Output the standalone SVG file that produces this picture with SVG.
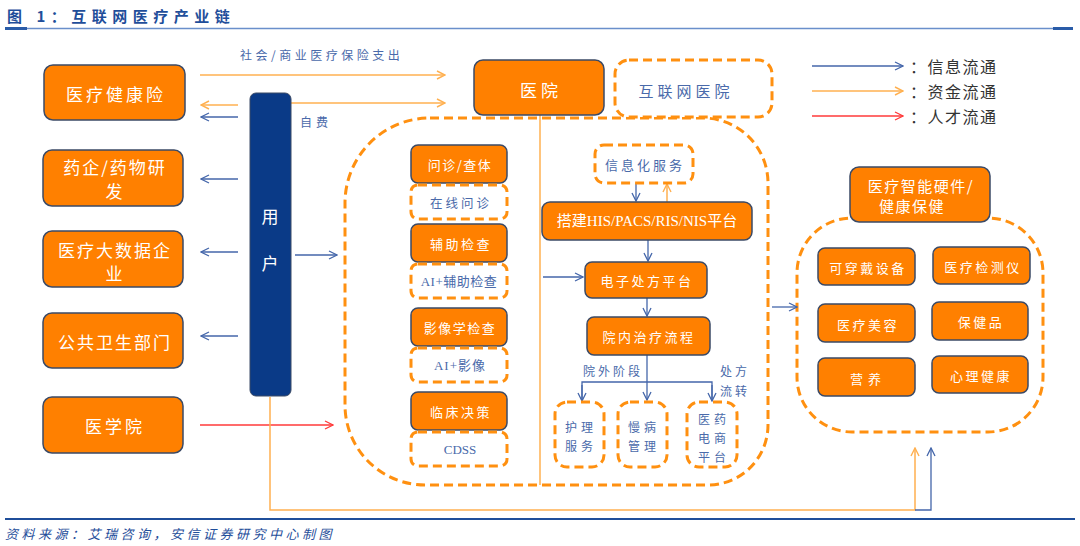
<svg xmlns="http://www.w3.org/2000/svg" width="1080" height="546" viewBox="0 0 1080 546">
<style>
text{font-family:"Noto Sans CJK SC","Liberation Serif",serif;}
.lat{font-family:"Liberation Serif","Noto Sans CJK SC",serif;}
.ob{fill:#FF8000;stroke:#3B4A66;stroke-width:1.5;}
.db{fill:#FFFFFF;stroke:#FF9010;stroke-width:3;stroke-dasharray:9 5;}
.wt{fill:#FFFFFF;text-anchor:middle;dominant-baseline:central;}
.bt{fill:#4A6AAA;text-anchor:middle;dominant-baseline:central;}
.lb{fill:#4A6AAA;dominant-baseline:central;}
.bl{stroke:#4466AA;stroke-width:1.3;fill:none;}
.or{stroke:#FFB050;stroke-width:1.5;fill:none;}
.rd{stroke:#FF3A3A;stroke-width:1.3;fill:none;}
.lg{fill:#333333;font-size:16px;letter-spacing:1.5px;dominant-baseline:central;}
</style>
<defs>
<marker id="mb" viewBox="0 0 10 10" refX="9" refY="5" markerWidth="10" markerHeight="10" markerUnits="userSpaceOnUse" orient="auto"><path d="M1,1 L9,5 L1,9" fill="none" stroke="#4466AA" stroke-width="1.3"/></marker>
<marker id="mo" viewBox="0 0 10 10" refX="9" refY="5" markerWidth="10" markerHeight="10" markerUnits="userSpaceOnUse" orient="auto"><path d="M1,1 L9,5 L1,9" fill="none" stroke="#FFB050" stroke-width="1.4"/></marker>
<marker id="mr" viewBox="0 0 10 10" refX="9" refY="5" markerWidth="10" markerHeight="10" markerUnits="userSpaceOnUse" orient="auto"><path d="M1,1 L9,5 L1,9" fill="none" stroke="#FF3A3A" stroke-width="1.3"/></marker>
</defs>
<rect width="1080" height="546" fill="#FFFFFF"/>

<g id="header">
<text x="7" y="15" font-size="15" font-weight="bold" fill="#1F4E9A" letter-spacing="5.5" dominant-baseline="central">图 1：互联网医疗产业链</text>
<line x1="5" y1="28.5" x2="1073" y2="28.5" stroke="#6A8FCB" stroke-width="1.5"/>
<line x1="5" y1="28.5" x2="27" y2="28.5" stroke="#2A5CA8" stroke-width="3"/>
<line x1="1053" y1="28.5" x2="1073" y2="28.5" stroke="#2A5CA8" stroke-width="3"/>
</g>

<g id="regions">
<path class="db" fill="none" d="M430,118 H703 A65,65 0 0 1 768,183 V425 A60,60 0 0 1 708,485 H425 A80,80 0 0 1 345,405 V203 A85,85 0 0 1 430,118 Z"/>
<rect class="db" x="797" y="218" width="246" height="214" rx="55"/>
</g>

<g id="connectors">
<line class="or" x1="200" y1="75" x2="445" y2="75" marker-end="url(#mo)"/>
<line class="or" x1="291" y1="103" x2="445" y2="103" marker-end="url(#mo)"/>
<line class="or" x1="238" y1="105" x2="201" y2="105" marker-end="url(#mo)"/>
<line class="bl" x1="238" y1="117" x2="201" y2="117" marker-end="url(#mb)"/>
<line class="bl" x1="238" y1="179" x2="201" y2="179" marker-end="url(#mb)"/>
<line class="bl" x1="238" y1="252" x2="201" y2="252" marker-end="url(#mb)"/>
<line class="bl" x1="238" y1="336" x2="201" y2="336" marker-end="url(#mb)"/>
<line class="bl" x1="295" y1="255" x2="337" y2="255" marker-end="url(#mb)"/>
<line class="rd" x1="200" y1="425" x2="333" y2="425" marker-end="url(#mr)"/>
<polyline class="or" stroke-width="1.3" points="270,397 270,510 915,510 915,448" marker-end="url(#mo)"/>
<polyline class="bl" points="915,510 931,510 931,448" marker-end="url(#mb)"/>
<line class="or" stroke-width="1.3" x1="540" y1="115" x2="540" y2="485"/>
<line class="bl" x1="636" y1="183" x2="636" y2="201" marker-end="url(#mb)"/>
<line class="or" stroke-width="1.3" x1="667" y1="202" x2="667" y2="184" marker-end="url(#mo)"/>
<line class="bl" x1="648" y1="240" x2="648" y2="261" marker-end="url(#mb)"/>
<line class="bl" x1="647" y1="298" x2="647" y2="316" marker-end="url(#mb)"/>
<line class="bl" x1="543" y1="277" x2="583" y2="277" marker-end="url(#mb)"/>
<line class="bl" x1="647" y1="355" x2="647" y2="400" marker-end="url(#mb)"/>
<polyline class="bl" points="582,400 582,382 712,382 712,400"/>
<line class="bl" x1="582" y1="385" x2="582" y2="401" marker-end="url(#mb)"/>
<line class="bl" x1="712" y1="385" x2="712" y2="401" marker-end="url(#mb)"/>
<line class="bl" x1="772" y1="307" x2="797" y2="307" marker-end="url(#mb)"/>
<text class="lb" x="240" y="54" font-size="12" letter-spacing="3.5">社会/商业医疗保险支出</text>
<text class="lb" x="300" y="121" font-size="12" letter-spacing="4">自费</text>
<text class="lb" x="583" y="370" font-size="12" letter-spacing="3">院外阶段</text>
<text class="lb" x="720" y="370" font-size="12" letter-spacing="3">处方</text>
<text class="lb" x="720" y="390" font-size="12" letter-spacing="3">流转</text>
</g>

<g id="legend">
<line class="bl" x1="812" y1="66" x2="903" y2="66" marker-end="url(#mb)"/>
<line class="or" x1="812" y1="91" x2="903" y2="91" marker-end="url(#mo)"/>
<line class="rd" x1="812" y1="116" x2="903" y2="116" marker-end="url(#mr)"/>
<text class="lg" x="910" y="66">：信息流通</text>
<text class="lg" x="910" y="91">：资金流通</text>
<text class="lg" x="910" y="116">：人才流通</text>
</g>

<g id="n-insurance"><rect class="ob" x="44" y="65" width="141" height="55" rx="9"/><text class="wt" x="116" y="93" font-size="17" letter-spacing="3">医疗健康险</text></g>
<g id="n-pharma"><rect class="ob" x="43" y="150" width="140" height="56" rx="9"/><text class="wt" x="115" y="166" font-size="17" letter-spacing="2">药企/药物研</text><text class="wt" x="114" y="190" font-size="17">发</text></g>
<g id="n-bigdata"><rect class="ob" x="43" y="231" width="140" height="56" rx="9"/><text class="wt" x="115" y="249" font-size="17" letter-spacing="2">医疗大数据企</text><text class="wt" x="114" y="272" font-size="17">业</text></g>
<g id="n-public"><rect class="ob" x="43" y="313" width="140" height="55" rx="9"/><text class="wt" x="115" y="341" font-size="17" letter-spacing="2">公共卫生部门</text></g>
<g id="n-school"><rect class="ob" x="43" y="397" width="140" height="56" rx="9"/><text class="wt" x="115" y="425" font-size="17" letter-spacing="3">医学院</text></g>

<g id="n-user"><rect x="250" y="93" width="41" height="303" rx="6" fill="#0A3A87" stroke="#3B4A66" stroke-width="1"/><text class="wt" x="270" y="215" font-size="17">用</text><text class="wt" x="270" y="262" font-size="17">户</text></g>

<g id="n-hospital"><rect class="ob" x="474" y="60" width="130" height="55" rx="9"/><text class="wt" x="541" y="89" font-size="17" letter-spacing="4">医院</text></g>
<g id="n-internet-hospital"><rect class="db" x="615" y="60" width="157" height="57" rx="14"/><text class="bt" x="686" y="90" font-size="15" letter-spacing="4">互联网医院</text></g>

<g id="n-wenzhen"><rect class="ob" x="411" y="145" width="96" height="38" rx="7"/><text class="wt" x="460" y="164" font-size="13" letter-spacing="1.5">问诊/查体</text></g>
<g id="n-online"><rect class="db" x="411" y="185" width="96" height="34" rx="7"/><text class="bt" x="461" y="202" font-size="12.5" letter-spacing="3">在线问诊</text></g>
<g id="n-fuzhu"><rect class="ob" x="411" y="224" width="96" height="38" rx="7"/><text class="wt" x="461" y="243" font-size="13" letter-spacing="2.5">辅助检查</text></g>
<g id="n-ai-fuzhu"><rect class="db" x="411" y="264" width="96" height="34" rx="7"/><text class="bt lat" x="459" y="281" font-size="13" letter-spacing="0.5">AI+辅助检查</text></g>
<g id="n-yingxiang"><rect class="ob" x="411" y="308" width="96" height="38" rx="7"/><text class="wt" x="460" y="327" font-size="13" letter-spacing="1.5">影像学检查</text></g>
<g id="n-ai-yingxiang"><rect class="db" x="411" y="348" width="96" height="34" rx="7"/><text class="bt lat" x="460" y="365" font-size="13" letter-spacing="1">AI+影像</text></g>
<g id="n-linchuang"><rect class="ob" x="411" y="392" width="96" height="38" rx="7"/><text class="wt" x="461" y="411" font-size="13" letter-spacing="2.5">临床决策</text></g>
<g id="n-cdss"><rect class="db" x="411" y="432" width="96" height="34" rx="7"/><text class="bt lat" x="460" y="449" font-size="13">CDSS</text></g>

<g id="n-xinxi"><rect class="db" x="595" y="145" width="98" height="38" rx="9"/><text class="bt" x="645" y="164" font-size="13" letter-spacing="3">信息化服务</text></g>
<g id="n-his"><rect class="ob" x="542" y="202" width="210" height="38" rx="8"/><text class="wt lat" x="647" y="221" font-size="15">搭建HIS/PACS/RIS/NIS平台</text></g>
<g id="n-chufang"><rect class="ob" x="585" y="262" width="122" height="36" rx="7"/><text class="wt" x="647" y="280" font-size="13" letter-spacing="2.5">电子处方平台</text></g>
<g id="n-yuannei"><rect class="ob" x="587" y="317" width="123" height="38" rx="7"/><text class="wt" x="649" y="336" font-size="13" letter-spacing="2.5">院内治疗流程</text></g>
<g id="n-huli"><rect class="db" x="555" y="402" width="49" height="65" rx="12"/><text class="bt" x="581" y="426" font-size="12" letter-spacing="4">护理</text><text class="bt" x="581" y="445" font-size="12" letter-spacing="4">服务</text></g>
<g id="n-manbing"><rect class="db" x="618" y="402" width="49" height="65" rx="12"/><text class="bt" x="644" y="426" font-size="12" letter-spacing="4">慢病</text><text class="bt" x="644" y="445" font-size="12" letter-spacing="4">管理</text></g>
<g id="n-dianshang"><rect class="db" x="687" y="402" width="50" height="65" rx="12"/><text class="bt" x="714" y="418" font-size="12" letter-spacing="4">医药</text><text class="bt" x="714" y="437" font-size="12" letter-spacing="4">电商</text><text class="bt" x="714" y="456" font-size="12" letter-spacing="4">平台</text></g>

<g id="n-hardware"><rect class="ob" x="850" y="167" width="140" height="55" rx="9"/><text class="wt" x="921" y="185" font-size="15" letter-spacing="1.5">医疗智能硬件/</text><text class="wt" x="912" y="205" font-size="15" letter-spacing="1.5">健康保健</text></g>
<g id="n-wearable"><rect class="ob" x="818" y="248" width="97" height="37" rx="7"/><text class="wt" x="868" y="267" font-size="13" letter-spacing="2.5">可穿戴设备</text></g>
<g id="n-detector"><rect class="ob" x="933" y="247" width="97" height="37" rx="7"/><text class="wt" x="983" y="266" font-size="13" letter-spacing="2.5">医疗检测仪</text></g>
<g id="n-beauty"><rect class="ob" x="818" y="304" width="97" height="38" rx="7"/><text class="wt" x="868" y="324" font-size="13" letter-spacing="2.5">医疗美容</text></g>
<g id="n-health-products"><rect class="ob" x="932" y="302" width="96" height="38" rx="7"/><text class="wt" x="981" y="321" font-size="13" letter-spacing="2.5">保健品</text></g>
<g id="n-nutrition"><rect class="ob" x="818" y="358" width="97" height="38" rx="7"/><text class="wt" x="868" y="378" font-size="13" letter-spacing="5">营养</text></g>
<g id="n-mental"><rect class="ob" x="932" y="356" width="96" height="37" rx="7"/><text class="wt" x="981" y="375" font-size="13" letter-spacing="2.5">心理健康</text></g>

<g id="footer">
<line x1="5" y1="519" x2="1075" y2="519" stroke="#1F4E9A" stroke-width="2"/>
<text x="5" y="533" font-size="13" font-style="italic" fill="#1F4E9A" letter-spacing="3.5" dominant-baseline="central">资料来源：艾瑞咨询，安信证券研究中心制图</text>
</g>
</svg>
